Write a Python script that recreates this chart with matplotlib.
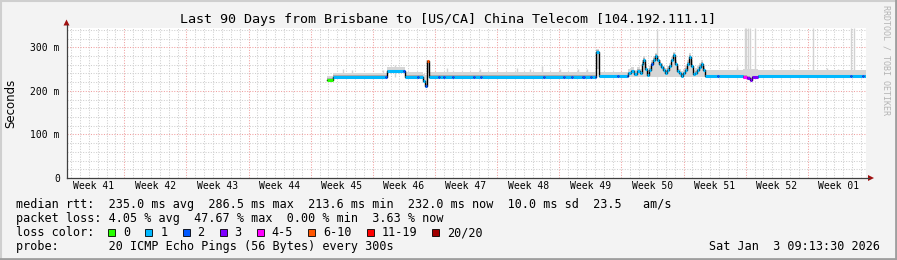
import matplotlib
matplotlib.use('Agg')
import matplotlib.pyplot as plt
from matplotlib.patches import Rectangle, Polygon
from matplotlib.lines import Line2D

# ---------------- data ----------------
title = "Last 90 Days from Brisbane to [US/CA] China Telecom [104.192.111.1]"
week_labels = ["Week 41", "Week 42", "Week 43", "Week 44", "Week 45", "Week 46", "Week 47",
               "Week 48", "Week 49", "Week 50", "Week 51", "Week 52", "Week 01"]
y_ticks = [0, 100, 200, 300]
y_tick_labels = ["0", "100 m", "200 m", "300 m"]

# median rtt segments (start day, ms), loss category, smoke range
seg_start = [29.29, 29.96, 35.82, 36.04, 37.85, 38.07, 39.42, 39.65, 40.10, 40.32,
             40.55, 40.78, 41.79, 42.02, 42.35, 42.58, 43.37, 43.60, 45.73, 45.96,
             46.52, 46.75, 53.62, 53.85, 55.87, 56.10, 56.77, 57.00, 58.01, 58.35,
             58.91, 59.14, 59.48, 59.59, 59.92, 61.95, 62.18, 63.08,
             63.19, 63.53, 63.86, 64.20, 64.54, 64.76, 64.93, 65.10, 65.32, 65.55,
             65.77, 66.00, 66.23, 66.45, 66.68, 66.91, 67.13, 67.36, 67.58, 67.81,
             68.03, 68.26, 68.49, 68.71, 68.94, 69.16, 69.39, 69.61, 69.84, 70.07,
             70.29, 70.52, 70.74, 70.97, 71.20, 71.42, 71.65,
             71.87, 73.21, 73.44, 76.14, 76.60, 76.94, 77.17, 77.83, 88.20, 88.43,
             89.55, 89.78]
seg_median = [226, 232, 232, 245, 245, 232, 232, 232, 222, 212,
              268, 232, 232, 232, 232, 232, 232, 232, 232, 232,
              232, 232, 232, 232, 232, 232, 232, 232, 232, 232,
              232, 232, 232, 289, 233, 233, 233, 233,
              240, 245, 238, 246, 240, 262, 272, 250, 237, 248,
              262, 272, 280, 270, 262, 255, 248, 242, 248, 256,
              270, 282, 262, 246, 240, 235, 240, 249, 262, 278,
              258, 238, 242, 247, 255, 262, 248,
              233, 233, 233, 232, 230, 226, 231, 233, 233, 233,
              233, 233]
seg_loss = [0, 1, 2, 1, 2, 1, 2, 1, 1, 2,
            5, 1, 2, 1, 2, 1, 2, 1, 2, 1,
            2, 1, 2, 1, 2, 1, 2, 1, 2, 1,
            2, 1, 2, 1, 1, 2, 1, 2,
            1, 1, 1, 1, 1, 1, 1, 1, 1, 1,
            2, 1, 1, 1, 1, 1, 1, 1, 1, 1,
            1, 1, 1, 1, 1, 1, 1, 1, 1, 1,
            1, 1, 1, 1, 1, 1, 1,
            1, 2, 1, 4, 3, 3, 3, 1, 2, 1,
            2, 1]
seg_smoke_lo = [224, 230, 230, 243, 243, 230, 230, 230, 220, 210,
                240, 230, 230, 230, 230, 230, 230, 230, 230, 230,
                230, 230, 230, 230, 230, 230, 230, 230, 230, 230,
                230, 230, 230, 250, 231, 231, 231, 231,
                232, 232, 232, 232, 232, 232, 232, 232, 232, 232,
                232, 232, 232, 232, 232, 232, 232, 232, 232, 232,
                232, 232, 232, 232, 232, 232, 232, 232, 232, 232,
                232, 232, 232, 232, 232, 232, 232,
                231, 231, 231, 228, 226, 222, 228, 231, 231, 231,
                231, 231]
seg_smoke_hi = [233, 242, 242, 254, 254, 243, 243, 243, 238, 236,
                272, 243, 243, 243, 243, 243, 243, 243, 243, 243,
                243, 243, 243, 243, 243, 243, 243, 243, 243, 243,
                243, 243, 243, 296, 244, 244, 244, 244,
                250, 254, 248, 255, 250, 270, 280, 262, 248, 258,
                270, 280, 288, 280, 272, 265, 258, 252, 258, 265,
                278, 290, 272, 256, 250, 246, 250, 258, 272, 288,
                268, 248, 252, 256, 264, 270, 258,
                247, 247, 247, 250, 250, 250, 250, 247, 247, 247,
                247, 247]

# individual ping outliers (smoke spikes): day, top value (ms)
spike_day = [31.09, 32.10, 35.59, 36.94, 42.80, 46.52, 50.69, 52.15, 53.50, 55.53,
             57.56, 58.57, 75.47, 79.53, 81.78, 85.61, 86.85,
             66.46, 76.37, 76.50, 76.71, 76.94, 77.50, 84.03, 88.31, 88.65]
spike_top = [250, 249, 249, 260, 252, 251, 253, 250, 257, 250,
             251, 250, 255, 251, 250, 252, 251,
             340, 345, 345, 345, 345, 345, 345, 345, 345]

loss_labels = ["0", "1", "2", "3", "4-5", "6-10", "11-19", "20/20"]
loss_colors = ["#26ff00", "#00b8ff", "#0059ff", "#7e00ff", "#ff00ff", "#ff5500", "#ff0000", "#a10000"]

legend_rtt = "median rtt:  235.0 ms avg  286.5 ms max  213.6 ms min  232.0 ms now  10.0 ms sd  23.5   am/s"
legend_loss = "packet loss: 4.05 % avg  47.67 % max  0.00 % min  3.63 % now"
legend_color_title = "loss color:"
probe_text = "probe:       20 ICMP Echo Pings (56 Bytes) every 300s"
date_text = "Sat Jan  3 09:13:30 2026"
y_label = "Seconds"
watermark = "RRDTOOL / TOBI OETIKER"

# ---------------- layout ----------------
W, H = 897, 260
DAYS = 90.0
YMAX = 345.0
L, R, T, B = 67, 866, 27.7, 178
MONO = "DejaVu Sans Mono"

fig = plt.figure(figsize=(W / 100, H / 100), dpi=100)
fig.patch.set_facecolor("#f3f3f3")


def fx(px):
    return px / W


def fy(py):
    return 1 - py / H


ax = fig.add_axes([fx(L), fy(B), (R - L) / W, (B - T) / H])
ax.set_facecolor("white")
ax.set_xlim(0, DAYS)
ax.set_ylim(0, YMAX)
for s in ax.spines.values():
    s.set_visible(False)

# grid
first_midnight = 0.45
first_week = 6.45
dot = (0, (1, 1.5))
d = first_midnight
while d < DAYS:
    if abs((d - first_week) % 7) > 0.01 and abs((d - first_week) % 7 - 7) > 0.01:
        ax.axvline(d, color="#cfcfcf", lw=0.75, ls=dot, zorder=0.5)
    d += 1
for v in range(20, int(YMAX) + 1, 20):
    if v % 100:
        ax.axhline(v, color="#cfcfcf", lw=0.75, ls=dot, zorder=0.5)
w = first_week
while w < DAYS:
    ax.axvline(w, color="#f0a0a0", lw=0.75, ls=dot, zorder=0.6)
    w += 7
for v in y_ticks[1:]:
    ax.axhline(v, color="#f0a0a0", lw=0.75, ls=dot, zorder=0.6)

# smoke
x_edges = seg_start + [DAYS]
seg_end = seg_start[1:] + [DAYS]


def ext(v):
    return list(v) + [v[-1]]


ax.fill_between(x_edges, ext(seg_smoke_lo), ext(seg_smoke_hi), step="post",
                color="#d6d6d6", lw=0, zorder=2)
core = 4
ax.fill_between(x_edges, ext(seg_median), [m + core for m in ext(seg_median)], step="post",
                color="#acacac", lw=0, zorder=2.1)
ax.vlines(spike_day, [232] * len(spike_day), spike_top, color="#d2d2d2", lw=1.0, zorder=1.9)

# median
ax.step(x_edges, ext(seg_median), where="post", color="black", lw=1.0, zorder=3)
ax.hlines(seg_median, seg_start, seg_end, colors=[loss_colors[k] for k in seg_loss],
          lw=2.2, zorder=4)

# ticks
ax.set_yticks(y_ticks, y_tick_labels, family=MONO, fontsize=7)
week_centers = [first_week - 3.5 + 7 * i for i in range(len(week_labels))]
ax.set_xticks(week_centers, week_labels, family=MONO, fontsize=7)
ax.tick_params(axis="y", length=0, pad=5.2)
ax.tick_params(axis="x", length=0, pad=2.5)

# axis lines and arrows
axis_col = "#404040"
fig.add_artist(Line2D([fx(L - 0.5), fx(L - 0.5)], [fy(B), fy(25)], color=axis_col, lw=0.9))
fig.add_artist(Line2D([fx(L - 0.5), fx(869)], [fy(B), fy(B)], color=axis_col, lw=0.9))
fig.add_artist(Polygon([[fx(L - 3.5), fy(25.5)], [fx(L + 2.5), fy(25.5)], [fx(L - 0.5), fy(19.5)]],
                       closed=True, color="#a01010", lw=0))
fig.add_artist(Polygon([[fx(868), fy(B - 3)], [fx(868), fy(B + 3)], [fx(874), fy(B)]],
                       closed=True, color="#a01010", lw=0))

# texts
fig.text(fx(448), fy(19), title, ha="center", va="center", family=MONO, fontsize=9.6)
fig.text(fx(11), fy(103), y_label, ha="center", va="center", rotation=90, fontsize=8.5,
         family="DejaVu Sans")
fig.text(fx(886), fy(60), watermark, ha="center", va="center", rotation=270, family=MONO,
         fontsize=6, color="#b4b4b4")

fs = 8.5
cw = 7.11
fig.text(fx(16), fy(204.5), legend_rtt, ha="left", va="center", family=MONO, fontsize=fs)
fig.text(fx(16), fy(218.5), legend_loss, ha="left", va="center", family=MONO, fontsize=fs)
fig.text(fx(16), fy(232.5), legend_color_title, ha="left", va="center", family=MONO, fontsize=fs)
fig.text(fx(16), fy(246.5), probe_text, ha="left", va="center", family=MONO, fontsize=fs)
fig.text(fx(880), fy(246.5), date_text, ha="right", va="center", family=MONO, fontsize=fs)

xb = 108.3
for lab, col in zip(loss_labels, loss_colors):
    fig.add_artist(Rectangle((fx(xb), fy(235.5)), 7 / W, 7 / H, facecolor=col,
                             edgecolor="black", lw=0.6))
    fig.text(fx(xb + 15), fy(232.5), lab, ha="left", va="center", family=MONO, fontsize=fs)
    xb += 15 + len(lab) * cw + 15

# frame shading
fig.add_artist(Line2D([0, 1], [fy(0.5), fy(0.5)], color="#cfcfcf", lw=1.5))
fig.add_artist(Line2D([fx(0.5), fx(0.5)], [0, 1], color="#cfcfcf", lw=1.5))
fig.add_artist(Line2D([0, 1], [fy(258.8), fy(258.8)], color="#9e9e9e", lw=2))
fig.add_artist(Line2D([fx(895.8), fx(895.8)], [0, 1], color="#9e9e9e", lw=2))

fig.savefig("out.png", dpi=100, facecolor=fig.get_facecolor())
